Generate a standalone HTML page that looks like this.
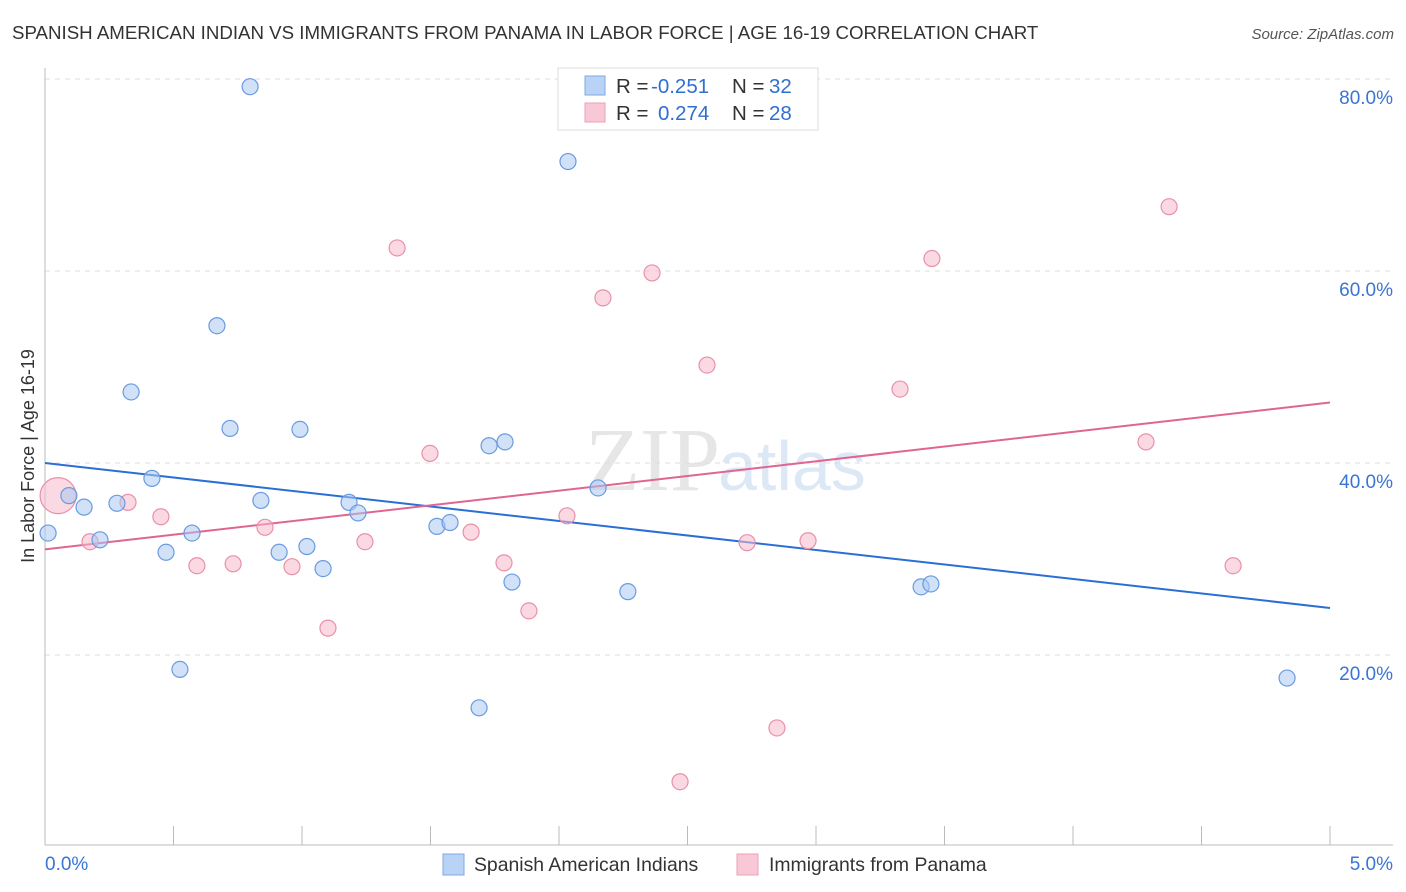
<!DOCTYPE html>
<html><head><meta charset="utf-8"><style>
body{margin:0;background:#fff;font-family:"Liberation Sans",sans-serif;}
svg{display:block}
</style></head><body>
<svg id="chart" width="1406" height="892">
<text x="12" y="39" font-size="18.7" fill="#333">SPANISH AMERICAN INDIAN VS IMMIGRANTS FROM PANAMA IN LABOR FORCE | AGE 16-19 CORRELATION CHART</text>
<text x="1394" y="39" font-size="15" fill="#555" font-style="italic" text-anchor="end">Source: ZipAtlas.com</text>
<text x="720" y="490" font-size="90" fill="#e6e6e6" text-anchor="end" font-family="Liberation Serif">ZIP</text>
<text x="718" y="490" font-size="70" fill="#dce8f6">atlas</text>
<g id="grid"></g>
<g id="axes"></g>
<text transform="translate(34,456) rotate(-90)" font-size="18" fill="#333" text-anchor="middle">In Labor Force | Age 16-19</text>
<g id="lines"></g>
<g id="points"></g>
<g>
<rect x="558" y="68" width="260" height="62" fill="#fff" stroke="#ddd"/>
<rect x="585" y="76" width="20" height="19" fill="#b8d3f5" stroke="#7ea8e0"/>
<rect x="585" y="103" width="20" height="19" fill="#f9c8d6" stroke="#eba0b8"/>
<text x="616" y="93" font-size="20.5" fill="#333">R = <tspan x="651" fill="#2f6fd0">-0.251</tspan><tspan x="732">N = </tspan><tspan x="769" fill="#2f6fd0">32</tspan></text>
<text x="616" y="120" font-size="20.5" fill="#333">R = <tspan x="658" fill="#2f6fd0">0.274</tspan><tspan x="732">N = </tspan><tspan x="769" fill="#2f6fd0">28</tspan></text>
</g>
<g>
<rect x="443" y="854" width="21" height="21" fill="#b8d3f5" stroke="#7ea8e0"/>
<text x="474" y="871" font-size="19.4" fill="#333">Spanish American Indians</text>
<rect x="737" y="854" width="21" height="21" fill="#f9c8d6" stroke="#eba0b8"/>
<text x="769" y="871" font-size="19.4" fill="#333">Immigrants from Panama</text>
</g>
</svg>
<script>
const blueX=[0.798,2.035,0.669,0.335,0.720,0.992,1.728,1.790,0.416,0.093,0.152,0.280,0.214,0.840,1.183,1.218,2.152,0.012,0.572,0.471,0.911,1.019,1.082,1.525,1.576,1.817,2.268,3.409,3.447,0.525,1.689,4.833];
const blueY=[79.2,71.4,54.3,47.4,43.6,43.5,41.8,42.2,38.4,36.6,35.4,35.8,32.0,36.1,35.9,34.8,37.4,32.7,32.7,30.7,30.7,31.3,29.0,33.4,33.8,27.6,26.6,27.1,27.4,18.5,14.5,17.6];
const pinkX=[0.051,0.175,0.323,0.451,0.591,0.732,0.856,0.961,1.101,1.245,1.370,1.498,1.658,1.786,1.883,2.031,2.171,2.362,2.471,2.576,2.732,2.848,2.969,3.327,3.451,4.284,4.374,4.623];
const pinkY=[36.6,31.8,35.9,34.4,29.3,29.5,33.3,29.2,22.8,31.8,62.4,41.0,32.8,29.6,24.6,34.5,57.2,59.8,6.8,50.2,31.7,12.4,31.9,47.7,61.3,42.2,66.7,29.3];
const blueTrend=[40.0,24.9];
const pinkTrend=[31.0,46.3];
const yTicks=[20,40,60,80];
const xTickLabels=["0.0%","5.0%"];
const NS="http://www.w3.org/2000/svg";
const sx=v=>45+v*257, sy=v=>847-v*9.6;
function mk(parent,tag,attrs){const e=document.createElementNS(NS,tag);for(const k in attrs)e.setAttribute(k,attrs[k]);document.getElementById(parent).appendChild(e);return e;}
yTicks.forEach(t=>{
 const g=mk('grid','line',{x1:45,x2:1393,y1:sy(t),y2:sy(t),stroke:'#ddd','stroke-dasharray':'5,5'});
 
 
 const l=mk('grid','text',{x:1393,y:sy(t)+25,'font-size':19,fill:'#3a74d4','text-anchor':'end'});
 l.textContent=t.toFixed(1)+'%';
 
 
});
let a=mk('axes','line',{x1:45,x2:45,y1:68,y2:845,stroke:'#bbb'});


a=mk('axes','line',{x1:45,x2:1393,y1:845,y2:845,stroke:'#bbb'});


for(let i=1;i<=10;i++){const t=mk('axes','line',{x1:sx(i*0.5),x2:sx(i*0.5),y1:826,y2:845,stroke:'#bbb'});
 
 }
[[0,'start',45],[1,'end',1393]].forEach(([i,anc,x])=>{const t=mk('axes','text',{x:x,y:870,'font-size':19,fill:'#3a74d4','text-anchor':anc});t.textContent=xTickLabels[i];
 
 });
function dots(xs,ys,fill,stroke,name){xs.forEach((x,i)=>{const r=(name==='pink-point'&&i===0)?18:8;
 const c=mk('points','circle',{cx:sx(x),cy:sy(ys[i]),r:r,fill:fill,'fill-opacity':0.55,stroke:stroke,'stroke-width':1.2});
 
 });}
dots(pinkX,pinkY,'#f7b9cc','#e890aa','pink-point');
dots(blueX,blueY,'#a9c9f2','#6a9be0','blue-point');
let tl=mk('lines','line',{x1:sx(0),y1:sy(blueTrend[0]),x2:sx(5),y2:sy(blueTrend[1]),stroke:'#2a6fd6','stroke-width':2});


tl=mk('lines','line',{x1:sx(0),y1:sy(pinkTrend[0]),x2:sx(5),y2:sy(pinkTrend[1]),stroke:'#e06592','stroke-width':2});


</script>
</body></html>
